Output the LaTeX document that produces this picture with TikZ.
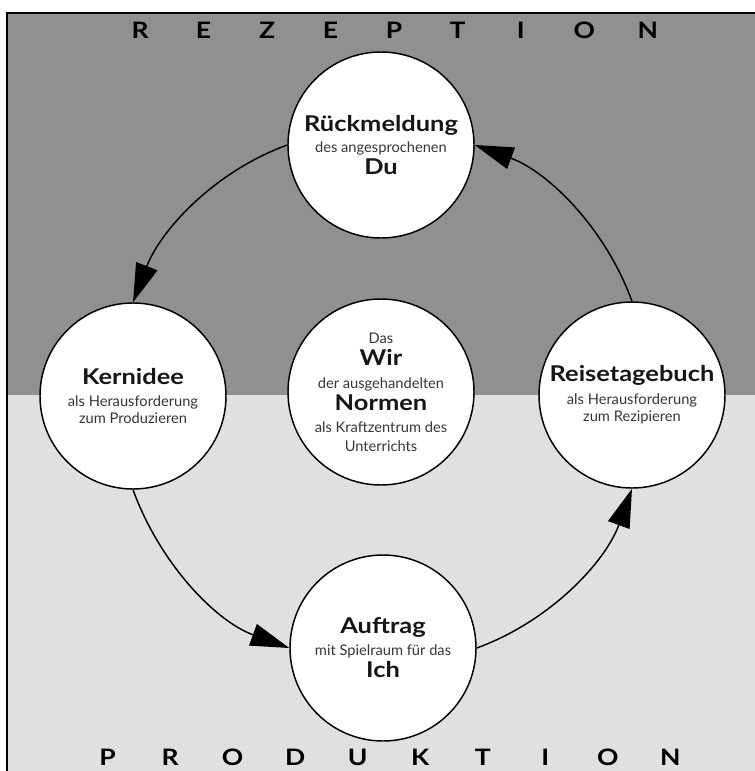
\documentclass[tikz,border=0pt]{standalone}
\usepackage{fontspec}
\setmainfont{Lato}
\newfontfamily\widebold{Lato}[FakeStretch=1.17]
\usetikzlibrary{arrows.meta}

\definecolor{upperband}{RGB}{144,144,144}
\definecolor{lowerband}{RGB}{224,224,224}
\definecolor{inktext}{RGB}{22,22,22}
\definecolor{softtext}{RGB}{55,55,55}

% bold key words and the small explanatory lines inside the circles
\newcommand\headline[1]{{\widebold\bfseries\fontsize{16.3}{16}\selectfont #1}}
\newcommand\subline[1]{{\color{softtext}\fontsize{11}{16}\selectfont #1}}
% spaced capitals of the two band titles
\newlength\letterpitch
\newcommand\lt[1]{\makebox[\letterpitch]{#1}}

\tikzset{
  station/.style={circle, draw=black, line width=1.1pt, fill=white,
    minimum size=139.5pt, inner sep=0pt, align=center, text=inktext,
    font=\fontsize{11}{16}\selectfont},
  cycle/.style={line width=1.1pt, -{Triangle[length=29pt,width=17pt]}},
  band/.style={font=\widebold\bfseries\fontsize{17}{17}\selectfont,
    anchor=base, inner sep=0pt, text=black},
  frame/.style={line width=1.6pt, draw=black}
}

\begin{document}
\begin{tikzpicture}[x=0.75pt, y=0.75pt]
  \useasboundingbox (0,0) rectangle (755,-771);
  \fill[white] (0,0) rectangle (755,-771);

  % the two halves: reception above, production below
  \fill[upperband] (7,-13) rectangle (755,-395);
  \fill[lowerband] (7,-395) rectangle (755,-771);
  \draw[frame] (7,-771) -- (7,-13) -- (755,-13);

  % band titles
  \node[band] (rez) at (394,-38)
    {\setlength\letterpitch{47.6pt}\lt R\lt E\lt Z\lt E\lt P\lt T\lt I\lt O\lt N};
  \node[band] (prod) at (389,-765)
    {\setlength\letterpitch{46.9pt}\lt P\lt R\lt O\lt D\lt U\lt K\lt T\lt I\lt O\lt N};

  % circles
  \node[station] (du) at (381,-145)
    {\headline{Rückmeldung}\\\subline{des angesprochenen}\\[0.5pt]\headline{Du}};
  \node[station] (kern) at (133,-396)
    {\headline{Kernidee}\\[1pt]\subline{als Herausforderung}\\[-3.25pt]\subline{zum Produzieren}};
  \node[station] (wir) at (381,-392)
    {\subline{Das}\\[1pt]\headline{Wir}\\[1pt]\subline{der ausgehandelten}\\[0.5pt]\headline{Normen}\\[0.5pt]\subline{als Kraftzentrum des}\\[-2pt]\subline{Unterrichts}};
  \node[station] (reise) at (632,-395)
    {\headline{Reisetagebuch}\\[1pt]\subline{als Herausforderung}\\[-3.25pt]\subline{zum Rezipieren}};
  \node[station] (ich) at (383,-648)
    {\headline{Auftrag}\\\subline{mit Spielraum für das}\\[1pt]\headline{Ich}};

  % cycle of arrows around the centre
  \draw[cycle] (du.west) to[out=200, in=69, looseness=0.9] (kern.north);
  \draw[cycle] (kern.south) to[out=-70, in=160, looseness=0.9] (ich.west);
  \draw[cycle] (ich.east) to[out=20, in=-110, looseness=0.9] (reise.south);
  \draw[cycle] (reise.north) to[out=110, in=-20, looseness=0.9] (du.east);
\end{tikzpicture}
\end{document}
